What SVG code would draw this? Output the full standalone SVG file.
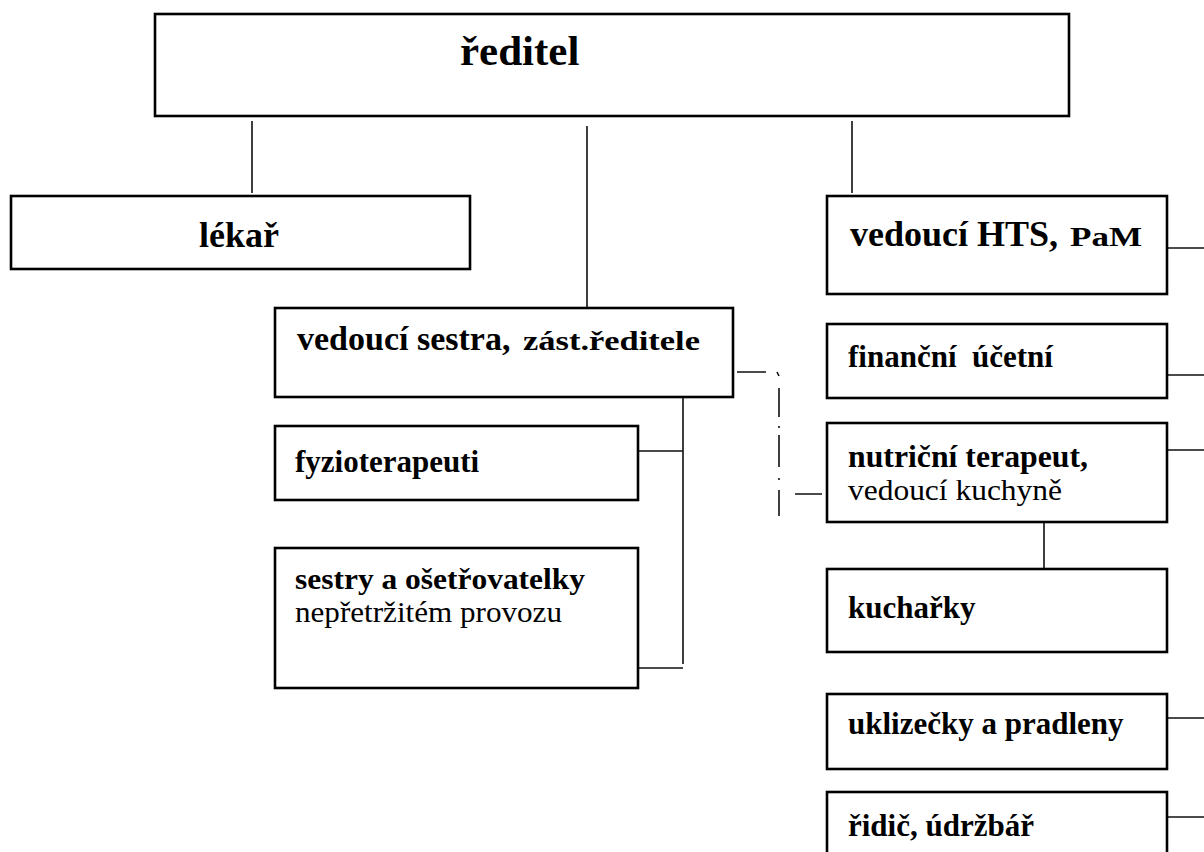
<svg xmlns="http://www.w3.org/2000/svg" width="1204" height="852" viewBox="0 0 1204 852">
<style>
.box{fill:#fff;stroke:#000;stroke-width:2.6}
.conn{stroke:#111;stroke-width:1.6;fill:none}
.t{font-family:"Liberation Serif","Times New Roman",serif;fill:#000;font-weight:bold}
.n{font-weight:normal}
.pre{white-space:pre}
</style>
<rect width="1204" height="852" fill="#fff"/>
<g id="connectors">
<path class="conn" d="M252 121V193M587 126V308M852 121V193M683 398V664M638 451H683M638 668H683M1044 522V569M1167 248H1204M1167 375H1204M1167 450H1204M1167 718H1204M1167 817H1204"/>
<path class="conn" d="M737 372H766M777 372L779 376M779 388V417M779 426V428M779 435V467M779 478V480M779 490V516M795 494H822"/>
</g>
<g id="reditel"><rect class="box" x="155" y="14" width="914" height="102"/><text class="t" x="460" y="65" font-size="43">ředitel</text></g>
<g id="lekar"><rect class="box" x="11" y="196" width="459" height="73"/><text class="t" x="199" y="247" font-size="36">lékař</text></g>
<g id="vedouci-hts"><rect class="box" x="827" y="196" width="340" height="98"/><text class="t" x="850" y="246" font-size="36">vedoucí HTS,</text><text class="t" x="1070" y="246" font-size="28" textLength="72" lengthAdjust="spacingAndGlyphs">PaM</text></g>
<g id="vedouci-sestra"><rect class="box" x="275" y="308" width="458" height="89"/><text class="t" x="297" y="350" font-size="34">vedoucí sestra,</text><text class="t" x="523" y="350" font-size="28" textLength="177" lengthAdjust="spacingAndGlyphs">zást.ředitele</text></g>
<g id="financni"><rect class="box" x="827" y="324" width="340" height="74"/><text class="t pre" x="848" y="367" font-size="31" xml:space="preserve">finanční  účetní</text></g>
<g id="nutricni"><rect class="box" x="827" y="423" width="340" height="99"/><text class="t" x="848" y="467" font-size="31" textLength="240" lengthAdjust="spacingAndGlyphs">nutriční terapeut,</text><text class="t n" x="848" y="500" font-size="30" textLength="214" lengthAdjust="spacingAndGlyphs">vedoucí kuchyně</text></g>
<g id="kucharky"><rect class="box" x="827" y="569" width="340" height="83"/><text class="t" x="848" y="618" font-size="31">kuchařky</text></g>
<g id="uklizecky"><rect class="box" x="827" y="694" width="340" height="75"/><text class="t" x="848" y="734" font-size="31">uklizečky a pradleny</text></g>
<g id="ridic"><rect class="box" x="827" y="792" width="340" height="75"/><text class="t" x="848" y="836" font-size="31">řidič, údržbář</text></g>
<g id="fyzio"><rect class="box" x="275" y="426" width="363" height="74"/><text class="t" x="295" y="472" font-size="31">fyzioterapeuti</text></g>
<g id="sestry"><rect class="box" x="275" y="548" width="363" height="140"/><text class="t" x="295" y="589" font-size="30" textLength="290" lengthAdjust="spacingAndGlyphs">sestry a ošetřovatelky</text><text class="t n" x="295" y="622" font-size="30" textLength="267" lengthAdjust="spacingAndGlyphs">nepřetržitém provozu</text></g>
</svg>
